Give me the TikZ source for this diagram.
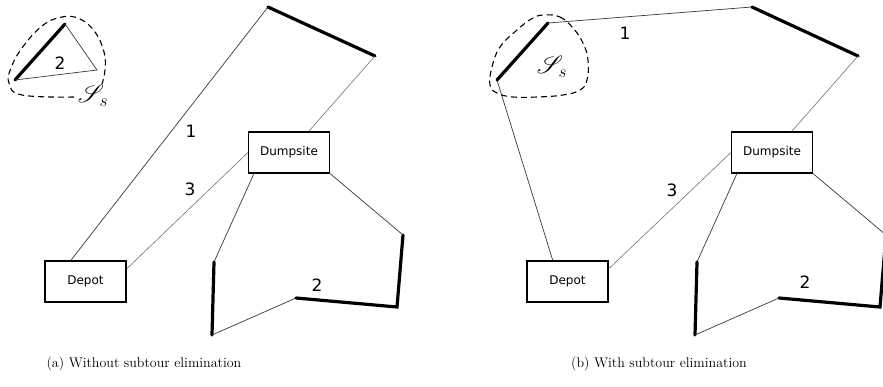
\documentclass[tikz,border=0pt]{standalone}
\usepackage{fontspec}
\usepackage{mathrsfs}
\newfontfamily\labfont{DejaVu Sans}
\begin{document}
\begin{tikzpicture}[x=1pt,y=-1pt,
  sitebox/.style={draw, line width=1.1pt, minimum width=81pt, minimum height=41pt, inner sep=0pt, font=\labfont\fontsize{12}{14}\selectfont},
  thinedge/.style={line width=0.7pt, draw=black!78},
  faintedge/.style={line width=0.6pt, draw=black!55},
  heavy/.style={line width=3.2pt, line cap=round},
  num/.style={font=\labfont\fontsize{17}{20}\selectfont, inner sep=0pt},
  subset/.style={line width=1.1pt, dash pattern=on 6pt off 4pt},
  scr/.style={inner sep=0pt, font=\fontsize{27}{30}\selectfont},
  captext/.style={inner sep=0pt, font=\fontsize{14}{17}\selectfont}]
\clip (0,0) rectangle (883,386);

% ---------- (a) ----------
\node[sitebox] (dumpA) at (289,152.5) {Dumpsite};
\node[sitebox] (depA) at (85.5,281.5) {Depot};
\coordinate (cA) at (268,7);
\coordinate (dA) at (375,56);
\coordinate (eA) at (214,262);
\coordinate (fA) at (212,335);
\coordinate (gA) at (296,298);
\coordinate (hA) at (397,307);
\coordinate (iA) at (403,235);
\coordinate (p1) at (65,24);
\coordinate (p2) at (15,80);
\coordinate (p3) at (97,70);

\draw[thinedge] (depA.125) -- (cA);
\draw[heavy] (cA) -- (dA);
\draw[faintedge] (dA) -- (dumpA.47);
\draw[faintedge] (depA.17) -- (dumpA.west);
\draw[thinedge] (dumpA.211) -- (eA);
\draw[heavy] (eA) -- (fA);
\draw[thinedge] (fA) -- (gA);
\draw[heavy] (gA) -- (hA) -- (iA);
\draw[thinedge] (iA) -- (dumpA.south east);

\draw[heavy] (p1) -- (p2);
\draw[thinedge] (p2) -- (p3) -- (p1);
\draw[subset] plot[smooth, tension=0.7] coordinates {(74,97) (22,95) (9,83) (11,68) (22,48) (42,26) (62,17) (80,19) (95,32) (104,52) (105,70) (102,84)};

\node[num] (l2a) at (60,63) {2};
\node[num] (l1a) at (191,131) {1};
\node[num] (l3a) at (190,189) {3};
\node[num] (l2b) at (317,285) {2};
\node[scr] (sA) at (93,96) {$\mathscr{S}_s$};

\node[captext] (capA) at (144,364) {(a) Without subtour elimination};

% ---------- (b) ----------
\node[sitebox] (dumpB) at (772,152.5) {Dumpsite};
\node[sitebox] (depB) at (567.5,281.5) {Depot};
\coordinate (aB) at (548,23);
\coordinate (bB) at (497,80);
\coordinate (cB) at (752,7);
\coordinate (dB) at (858,56);
\coordinate (eB) at (697,262);
\coordinate (fB) at (695,335);
\coordinate (gB) at (779,298);
\coordinate (hB) at (880,307);
\coordinate (iB) at (886,235);

\draw[thinedge] (depB.125) -- (bB);
\draw[heavy] (bB) -- (aB);
\draw[thinedge] (aB) -- (cB);
\draw[heavy] (cB) -- (dB);
\draw[faintedge] (dB) -- (dumpB.47);
\draw[faintedge] (depB.17) -- (dumpB.west);
\draw[thinedge] (dumpB.211) -- (eB);
\draw[heavy] (eB) -- (fB);
\draw[thinedge] (fB) -- (gB);
\draw[heavy] (gB) -- (hB) -- (iB);
\draw[thinedge] (iB) -- (dumpB.south east);

\draw[subset] plot[smooth cycle, tension=0.7] coordinates {(545,15) (560,17) (573,28) (583,43) (588,60) (587,80) (580,90) (563,95) (537,97) (513,97) (497,93) (490,85) (492,67) (500,47) (517,30) (533,18)};

\node[num] (l1c) at (625,33) {1};
\node[num] (l3c) at (672,190) {3};
\node[num] (l2c) at (805,282) {2};
\node[scr] (sB) at (552,67) {$\mathscr{S}_s$};

\node[captext] (capB) at (659,364) {(b) With subtour elimination};
\end{tikzpicture}
\end{document}
